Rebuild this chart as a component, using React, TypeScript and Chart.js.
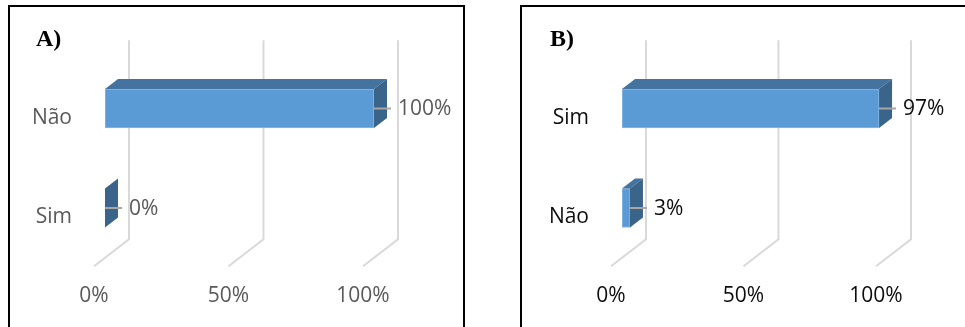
import React, { useEffect, useRef } from "react";
import { Chart, registerables } from "chart.js";

Chart.register(...registerables);

// ---- data ----
const categoriesA = ["Não", "Sim"];
const valuesA = [100, 0];
const categoriesB = ["Sim", "Não"];
const valuesB = [97, 3];
const xTickValues = [0, 50, 100];

const FONT = '"Open Sans", "DejaVu Sans", sans-serif';

function make3dPlugin(textColor: string) {
  return {
    id: "bar3d",
    beforeDatasetsDraw(chart: any) {
      const { ctx, chartArea, scales } = chart;
      const xs = scales.x;
      ctx.save();
      ctx.strokeStyle = "#d9d9d9";
      ctx.lineWidth = 2;
      xTickValues.forEach((v) => {
        const x = xs.getPixelForValue(v);
        ctx.beginPath();
        ctx.moveTo(x + 24, chartArea.top - 18.5);
        ctx.lineTo(x + 24, chartArea.bottom - 18.5);
        ctx.lineTo(x - 11, chartArea.bottom + 8.5);
        ctx.stroke();
      });
      ctx.restore();
    },
    afterDatasetsDraw(chart: any) {
      const { ctx } = chart;
      const meta = chart.getDatasetMeta(0);
      const data = chart.data.datasets[0].data as number[];
      const dx = 13;
      const dy = -10;
      ctx.save();
      meta.data.forEach((bar: any, i: number) => {
        const p = bar.getProps(["x", "y", "base", "height"], true);
        const top = p.y - p.height / 2;
        const bottom = p.y + p.height / 2;
        const left = p.base;
        const right = p.x;
        // top face
        if (right - left > 0.5) {
          ctx.fillStyle = "#44739f";
          ctx.beginPath();
          ctx.moveTo(left, top);
          ctx.lineTo(right, top);
          ctx.lineTo(right + dx, top + dy);
          ctx.lineTo(left + dx, top + dy);
          ctx.closePath();
          ctx.fill();
        }
        // right face
        ctx.fillStyle = "#3a6489";
        ctx.beginPath();
        ctx.moveTo(right, top);
        ctx.lineTo(right + dx, top + dy);
        ctx.lineTo(right + dx, bottom + dy);
        ctx.lineTo(right, bottom);
        ctx.closePath();
        ctx.fill();
        // leader line
        ctx.strokeStyle = "#a6a6a6";
        ctx.lineWidth = 2;
        ctx.beginPath();
        ctx.moveTo(right, p.y);
        ctx.lineTo(right + 17, p.y);
        ctx.stroke();
        // value label
        ctx.fillStyle = textColor;
        ctx.font = `21px ${FONT}`;
        ctx.textAlign = "left";
        ctx.textBaseline = "middle";
        ctx.fillText(`${data[i]}%`, right + 24, p.y + 1);
      });
      ctx.restore();
    },
  };
}

function BarPanel({
  categories,
  values,
  textColor,
  axisWidth,
  padRight,
}: {
  categories: string[];
  values: number[];
  textColor: string;
  axisWidth: number;
  padRight: number;
}) {
  const ref = useRef<HTMLCanvasElement>(null);
  useEffect(() => {
    if (!ref.current) return;
    const chart = new Chart(ref.current, {
      type: "bar",
      data: {
        labels: categories,
        datasets: [
          {
            data: values,
            backgroundColor: "#5b9bd5",
            borderColor: "#8db9e2",
            borderWidth: 1,
            borderSkipped: false,
            barThickness: 39,
          },
        ],
      },
      options: {
        indexAxis: "y",
        animation: false,
        responsive: false,
        maintainAspectRatio: false,
        layout: { padding: { left: 0, right: padRight, top: 58.75, bottom: 0 } },
        plugins: {
          legend: { display: false },
          tooltip: { enabled: false },
          title: { display: false },
        },
        scales: {
          x: {
            type: "linear",
            min: 0,
            max: 100,
            afterBuildTicks: (scale: any) => {
              scale.ticks = xTickValues.map((v) => ({ value: v }));
            },
            afterFit: (scale: any) => {
              scale.height = 69.25;
            },
            grid: { display: false, drawTicks: false },
            border: { display: false },
            ticks: {
              labelOffset: -11,
              padding: 26,
              color: textColor,
              font: { family: FONT, size: 21 },
              callback: (v: any) => `${v}%`,
            },
          },
          y: {
            afterFit: (scale: any) => {
              scale.width = axisWidth;
            },
            grid: { display: false, drawTicks: false },
            border: { display: false },
            ticks: {
              labelOffset: 9.5,
              padding: 33,
              color: textColor,
              font: { family: FONT, size: 21 },
            },
          },
        },
      },
      plugins: [make3dPlugin(textColor)],
    } as any);
    return () => chart.destroy();
  }, []);
  return <canvas ref={ref} width={480} height={327} style={{ display: "block" }} />;
}

const titleStyle = (left: number): React.CSSProperties => ({
  position: "absolute",
  left,
  top: 26,
  font: 'bold 24px "Liberation Serif", "Times New Roman", serif',
  lineHeight: "24px",
  color: "#000",
});

export default function App() {
  return (
    <div
      style={{
        position: "absolute",
        left: 0,
        top: 0,
        width: 965,
        height: 327,
        overflow: "hidden",
        background: "#fff",
      }}
    >
      {/* panel borders */}
      <div
        style={{
          position: "absolute",
          left: 8,
          top: 5,
          width: 453,
          height: 340,
          borderTop: "2px solid #000",
          borderLeft: "2px solid #000",
          borderRight: "2px solid #000",
        }}
      />
      <div
        style={{
          position: "absolute",
          left: 520,
          top: 5,
          width: 500,
          height: 340,
          borderTop: "2px solid #000",
          borderLeft: "2px solid #000",
        }}
      />
      <div style={{ position: "absolute", left: 0, top: 0 }}>
        <BarPanel categories={categoriesA} values={valuesA} textColor="#595959" axisWidth={105} padRight={106} />
      </div>
      <div style={{ position: "absolute", left: 485, top: 0 }}>
        <BarPanel categories={categoriesB} values={valuesB} textColor="#0d0d0d" axisWidth={137} padRight={78} />
      </div>
      <div style={titleStyle(36)}>A)</div>
      <div style={titleStyle(550)}>B)</div>
    </div>
  );
}
